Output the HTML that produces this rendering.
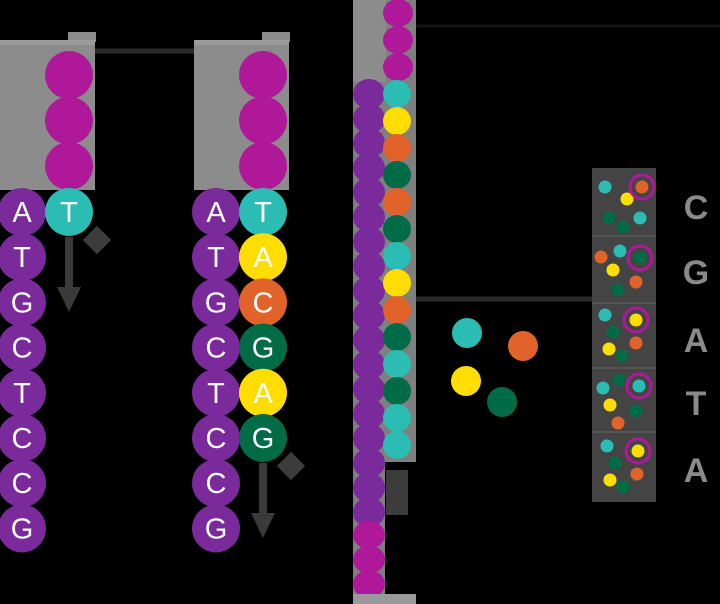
<!DOCTYPE html>
<html><head><meta charset="utf-8"><style>
html,body{margin:0;padding:0;background:#000;}
svg{display:block;}
text{font-family:"Liberation Sans","DejaVu Sans",sans-serif;}
</style></head><body>
<svg id="chart" width="720" height="604" viewBox="0 0 720 604" xmlns="http://www.w3.org/2000/svg">
<rect width="720" height="604" fill="#000"/>
<g id="main"></g>
</svg>
<script>
const COLORS = {A:'#ffdd00', T:'#2bbdb3', C:'#e2632a', G:'#006b47'};
const PURPLE='#7a2a9a', MAGENTA='#b0189a', GRAY='#8c8c8c', DARK='#444444';
const template = ['A','T','G','C','T','C','C','G'];
const strand1 = ['T'];
const strand2 = ['T','A','C','G','A','G'];
const strand3 = ['T','A','C','G','C','G','T','A','C','G','T','G','T','T'];
const readLetters = ['C','G','A','T','A'];

const NS='http://www.w3.org/2000/svg';
const g=document.getElementById('main');
function mk(tag,attrs,parent){const e=document.createElementNS(NS,tag);for(const k in attrs)e.setAttribute(k,attrs[k]);(parent||g).appendChild(e);return e;}

let l;
l=mk('line',{x1:88,y1:51,x2:195,y2:51,stroke:'#2a2a2a','stroke-width':5});


l=mk('line',{x1:415,y1:26,x2:720,y2:26,stroke:'#161616','stroke-width':3});


l=mk('line',{x1:410,y1:299,x2:594,y2:299,stroke:'#2a2a2a','stroke-width':5});



function column(x0, strand, ci){
  const grp=mk('g',{});
  
  
  const cx1=x0+22, cx2=x0+69;
  mk('rect',{x:x0,y:42,width:47,height:148,fill:GRAY},grp);
  mk('rect',{x:x0+45,y:40,width:50,height:150,fill:GRAY},grp);
  mk('rect',{x:x0+68,y:32,width:28,height:10,fill:GRAY},grp);
  mk('rect',{x:x0,y:40,width:95,height:5,fill:'#9a9a9a'},grp);
  for(let i=0;i<3;i++){mk('circle',{cx:cx2,cy:75+45.5*i,r:24,fill:MAGENTA},grp);}
  for(let i=0;i<template.length;i++){
    const cy=212+45.2*i;
    const c=mk('circle',{cx:cx1,cy:cy,r:24,fill:PURPLE},grp);
    
    
    mk('text',{x:cx1,y:cy+10,'text-anchor':'middle','font-size':29,fill:'#fff'},grp).textContent=template[i];
  }
  for(let i=0;i<strand.length;i++){
    const cy=212+45.2*i;
    const c=mk('circle',{cx:cx2,cy:cy,r:24,fill:COLORS[strand[i]]},grp);
    
    
    mk('text',{x:cx2,y:cy+10,'text-anchor':'middle','font-size':29,fill:'#fff'},grp).textContent=strand[i];
  }
  const yEnd=212+45.2*(strand.length-1);
  mk('rect',{x:cx2+18,y:yEnd+18,width:20,height:20,fill:'#3c3c3c',transform:`rotate(45 ${cx2+28} ${yEnd+28})`},grp);
  mk('rect',{x:cx2-4,y:yEnd+25,width:8,height:65,fill:'#3a3a3a'},grp);
  mk('polygon',{points:`${cx2-12},${yEnd+75} ${cx2+12},${yEnd+75} ${cx2},${yEnd+100}`,fill:'#3a3a3a'},grp);
}
column(0,strand1,1);
column(194,strand2,2);

const c3=mk('g',{});


mk('rect',{x:353,y:0,width:63,height:604,fill:'#7f7f7f'},c3);
mk('rect',{x:385,y:82,width:31,height:522,fill:'#000'},c3);
mk('rect',{x:385,y:82,width:31,height:380,fill:'#7f7f7f'},c3);
mk('rect',{x:353,y:0,width:33,height:82,fill:GRAY},c3);
for(let i=0;i<3;i++) mk('ellipse',{cx:398,cy:13+27*i,rx:15,ry:14,fill:MAGENTA},c3);
for(let i=0;i<18;i++) mk('ellipse',{cx:369,cy:94+24.6*i,rx:16,ry:15,fill:PURPLE},c3);
for(let i=0;i<strand3.length;i++){
  const e=mk('ellipse',{cx:397,cy:94+27*i,rx:14,ry:14,fill:COLORS[strand3[i]]},c3);
  
  
}
mk('rect',{x:386,y:470,width:22,height:45,fill:'#3c3c3c'},c3);
for(let i=0;i<3;i++) mk('ellipse',{cx:369,cy:535+24.5*i,rx:16,ry:14,fill:MAGENTA},c3);
mk('rect',{x:353,y:594,width:63,height:10,fill:'#9a9a9a'},c3);

const free=[['T',467,333],['C',523,346],['A',466,381],['G',502,402]];
for(const f of free){
  const c=mk('circle',{cx:f[1],cy:f[2],r:15,fill:COLORS[f[0]]});
  
  
}

const panel=mk('g',{});


mk('rect',{x:592,y:168,width:64,height:334,fill:DARK},panel);
[236,303,368,432].forEach(y=>mk('rect',{x:592,y:y-1,width:64,height:2,fill:'#555'},panel));
const wells=[
 [['T',605,187],['A',627,199],['G',609,218],['G',623,227],['T',640,218],['C',642,187,1]],
 [['C',601,257],['T',620,251],['A',613,270],['C',636,282],['G',618,290],['G',640,258,1]],
 [['T',605,315],['G',613,332],['C',636,343],['A',609,349],['G',622,356],['A',636,320,1]],
 [['G',619,380],['T',603,388],['A',610,405],['G',636,411],['C',618,423],['T',639,386,1]],
 [['T',607,446],['G',615,463],['C',637,474],['A',610,480],['G',623,487],['A',638,451,1]]
];
wells.forEach((w,wi)=>{
  for(const d of w){
    const c=mk('circle',{cx:d[1],cy:d[2],r:6.5,fill:COLORS[d[0]]},panel);
    
    
    if(d[3]) mk('circle',{cx:d[1],cy:d[2],r:12,fill:'none',stroke:MAGENTA,'stroke-width':3},panel);
  }
});
const ly=[207,272,340,403,470];
readLetters.forEach((t,i)=>{
  const e=mk('text',{x:696,y:ly[i]+12,'text-anchor':'middle','font-size':34,'font-weight':'bold',fill:'#8a8a8a'});
  e.textContent=t;
  
  
});
</script>
</body></html>
